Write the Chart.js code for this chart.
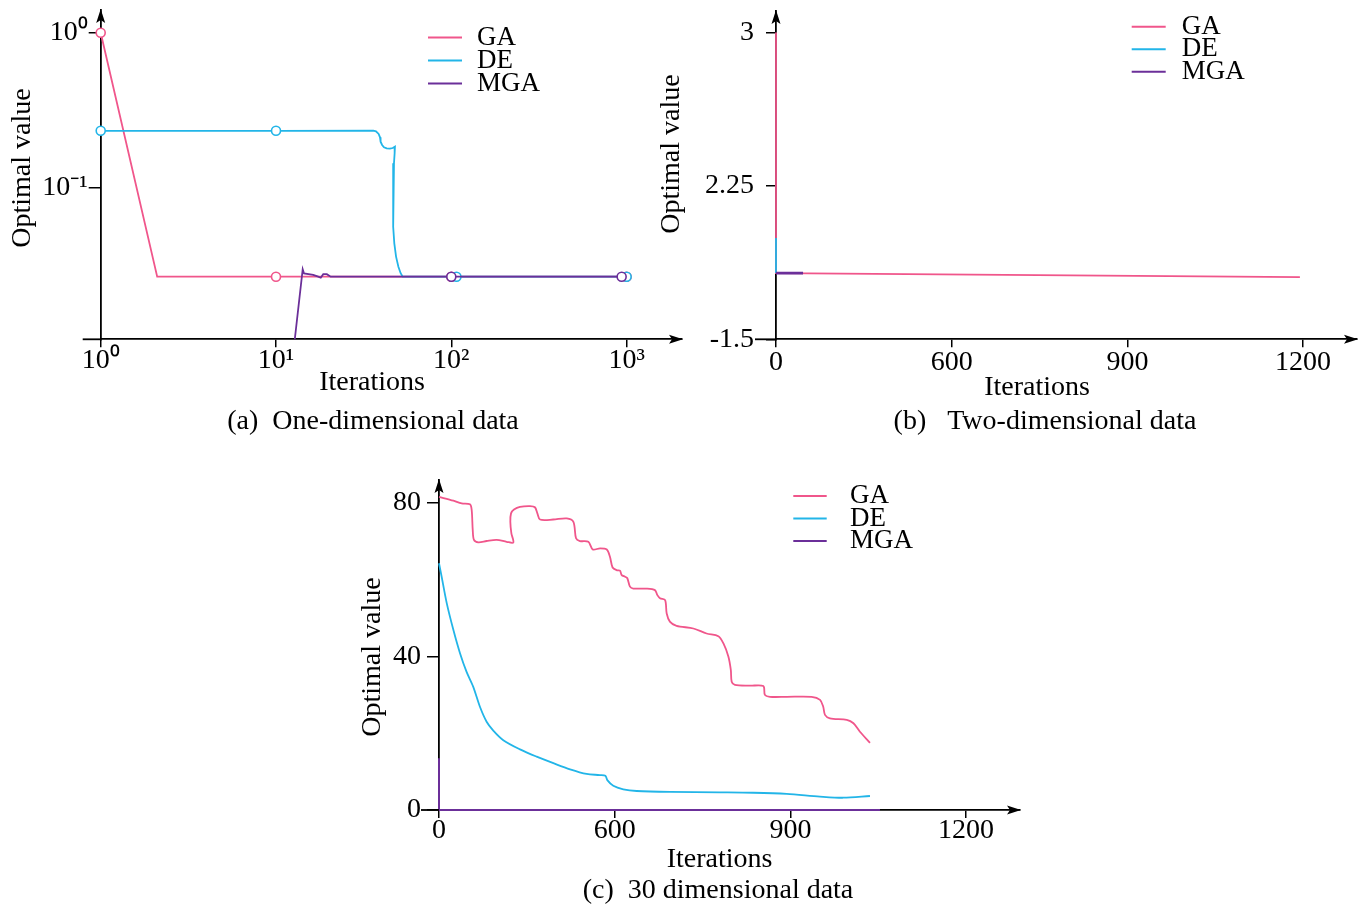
<!DOCTYPE html>
<html>
<head>
<meta charset="utf-8">
<title>Convergence curves of GA, DE and MGA</title>
<script src="https://cdn.jsdelivr.net/npm/chart.js@4.4.1/dist/chart.umd.min.js"></script>
<style>
  html, body { margin: 0; padding: 0; background: #fff; width: 1364px; height: 907px; overflow: hidden; position: relative; }
  canvas { position: absolute; }
</style>
</head>
<body>
<canvas id="panelA" width="746" height="450" style="left:0px;top:0px"></canvas>
<canvas id="panelB" width="810" height="450" style="left:640px;top:0px"></canvas>
<canvas id="panelC" width="836" height="450" style="left:300px;top:460px"></canvas>
<script>
const FONT = '"Liberation Serif", "Times New Roman", Times, serif';

const seriesNames = ['GA', 'DE', 'MGA'];
const seriesColors = ['#f0568b', '#22b5e8', '#6b2f99'];
const xTitleText = 'Iterations';
const yTitleText = 'Optimal value';

// (a) One-dimensional data: logarithmic iterations and optimal value
const oneDimXTicks = [1, 10, 100, 1000];
const oneDimXLabels = ['10⁰', '10¹', '10²', '10³'];
const oneDimYTicks = [0.1, 1];
const oneDimYLabels = ['10⁻¹', '10⁰'];

const oneDimGaIter   = [1, 2.1, 10, 100, 1000];
const oneDimGaValue  = [1, 0.0264, 0.0264, 0.0264, 0.0264];
const oneDimGaMarker = [4.5, 0, 4.5, 4.5, 4.5];

const oneDimDeIter = [1, 10, 35.9, 37.2, 38.5, 39.2, 39.5, 40.3, 41.3, 42.8, 44.7, 46.3, 47.7,
  47.5, 47.1, 46.7, 46.5, 46.5, 46.7, 47.3, 48.4, 49.9, 51.4, 52.8, 107, 1000];
const oneDimDeValue = [0.232, 0.232, 0.2323, 0.2301, 0.2213, 0.2105, 0.1972, 0.1878, 0.1815, 0.1787, 0.1778, 0.1795, 0.1832,
  0.1659, 0.1429, 0.1172, 0.0914, 0.0713, 0.0556, 0.0434, 0.0356, 0.0306, 0.0278, 0.0264, 0.0264, 0.0264];
const oneDimDeMarker = [4.5, 4.5, 0, 0, 0, 0, 0, 0, 0, 0, 0, 0, 0,
  0, 0, 0, 0, 0, 0, 0, 0, 0, 0, 0, 4.5, 4.5];

const oneDimMgaIter   = [12.8, 14.2, 14.45, 16.3, 17.4, 18.0, 18.6, 19.5, 20.5, 21.7, 100, 937];
const oneDimMgaValue  = [0.0104, 0.0295, 0.0277, 0.0271, 0.0264, 0.026, 0.0274, 0.0274, 0.0264, 0.0264, 0.0264, 0.0264];
const oneDimMgaMarker = [0, 0, 0, 0, 0, 0, 0, 0, 0, 0, 4.5, 4.5];

// (b) Two-dimensional data: both axes use evenly spaced tick steps,
// so positions below are given in tick steps (0, 1, 2, ...)
const twoDimXTicks = [0, 1, 2, 3];
const twoDimXLabels = ['0', '600', '900', '1200'];
const twoDimYTicks = [0, 1, 2];
const twoDimYLabels = ['-1.5', '2.25', '3'];

const twoDimGaStep  = [0, 0, 2.982];
const twoDimGaLevel = [2, 0.4315, 0.405];
const twoDimDeStep  = [0, 0];
const twoDimDeLevel = [0.66, 0.4315];
const twoDimMgaStep  = [0, 0.154];
const twoDimMgaLevel = [0.4315, 0.4315];

// (c) 30 dimensional data: iteration axis in tick steps, value axis linear
const thirtyDimXTicks = [0, 1, 2, 3];
const thirtyDimXLabels = ['0', '600', '900', '1200'];
const thirtyDimYTicks = [0, 40, 80];
const thirtyDimYLabels = ['0', '40', '80'];

const thirtyDimGaStep = [0, 0.082, 0.129, 0.176, 0.186, 0.192, 0.199, 0.224, 0.271, 0.328, 0.385, 0.423,
  0.412, 0.406, 0.410, 0.427, 0.461, 0.518, 0.546, 0.560, 0.575, 0.650, 0.727, 0.765, 0.780, 0.802, 0.850,
  0.875, 0.917, 0.955, 0.973, 0.988, 1.011, 1.030, 1.040, 1.059, 1.072, 1.087, 1.106, 1.182, 1.229, 1.243,
  1.258, 1.287, 1.296, 1.314, 1.352, 1.448, 1.523, 1.590, 1.619, 1.647, 1.661, 1.666, 1.684, 1.770, 1.846,
  1.855, 1.884, 1.979, 2.121, 2.169, 2.187, 2.197, 2.225, 2.321, 2.359, 2.396, 2.453];
const thirtyDimGaValue = [81.6, 80.6, 79.9, 79.65, 78.2, 73.0, 70.4, 69.75, 70.1, 70.4, 69.9, 69.7,
  72.1, 75.1, 77.3, 78.3, 79.0, 79.2, 78.9, 77.3, 75.7, 75.7, 76.0, 75.1, 70.8, 70.1, 69.9,
  67.9, 68.2, 67.9, 66.0, 63.2, 62.5, 62.4, 61.2, 60.8, 60.4, 58.2, 57.7, 57.7, 57.3, 56.0,
  55.2, 54.7, 51.2, 49.1, 48.0, 47.3, 46.0, 45.3, 43.4, 40.0, 36.5, 33.4, 32.6, 32.4, 32.3,
  30.0, 29.5, 29.5, 29.5, 28.7, 26.9, 24.8, 23.9, 23.5, 22.6, 20.4, 17.5];

const thirtyDimDeStep = [0, 0.015, 0.044, 0.082, 0.120, 0.157, 0.195, 0.233, 0.271, 0.309, 0.366, 0.461,
  0.556, 0.651, 0.746, 0.840, 0.916, 0.947, 0.958, 0.992, 1.049, 1.125, 1.315, 1.599, 1.789, 1.979, 2.168, 2.301, 2.453];
const thirtyDimDeValue = [64.3, 60.8, 53.9, 46.9, 40.8, 36.0, 32.1, 26.9, 23.0, 20.7, 18.2, 15.8,
  13.9, 12.2, 10.6, 9.4, 9.1, 8.9, 7.8, 6.3, 5.4, 4.95, 4.7, 4.6, 4.5, 4.2, 3.5, 3.2, 3.65];

const thirtyDimMgaStep  = [0, 0, 2.51];
const thirtyDimMgaValue = [13.5, 0, 0];

// ---------- helpers ----------
function series(idx, xs, ys, extra) {
  return Object.assign({
    label: seriesNames[idx],
    data: xs.map((x, i) => ({ x: x, y: ys[i] })),
    borderColor: seriesColors[idx],
    backgroundColor: '#fff',
    borderWidth: 1.8,
    pointRadius: 0,
    pointHoverRadius: 0,
    pointBorderColor: seriesColors[idx],
    pointBackgroundColor: '#fff',
    pointBorderWidth: 1.6,
    tension: 0,
    fill: false,
    clip: 6,
    order: 3 - idx
  }, extra || {});
}

function fixedTicks(values) {
  return function (scale) { scale.ticks = values.map(v => ({ value: v })); };
}

function noPadding(s) {
  s.paddingLeft = s.paddingRight = s.paddingTop = s.paddingBottom = 0;
}

function axis(pos, type, min, max, values, labels, size, tickLen, pad) {
  return {
    type: type, position: pos, min: min, max: max, bounds: 'data',
    afterBuildTicks: fixedTicks(values),
    afterFit: function (s) {
      if (pos === 'left') s.width = size; else s.height = size;
      noPadding(s);
    },
    grid: { display: true, drawOnChartArea: false, drawTicks: true, tickLength: tickLen, color: '#000', lineWidth: 1.5 },
    border: { display: true, color: '#000', width: 1.8 },
    ticks: {
      autoSkip: false, maxRotation: 0, minRotation: 0, padding: pad, color: '#000',
      font: { family: FONT, size: 28, lineHeight: 1.2 },
      callback: function (v) { return labels[values.indexOf(v)]; }
    }
  };
}

// blank margin on the right of the plot, so the caption stays centred on the panel
function rightMargin(width) {
  return {
    type: 'linear', position: 'right', min: 0, max: 1,
    afterFit: function (s) { s.width = width; noPadding(s); },
    grid: { display: false }, border: { display: false }, ticks: { display: false }
  };
}

// axis arrows, the short lead of the iteration axis, axis titles and the inline key
const framePlugin = {
  id: 'frame',
  afterDraw(chart, args, o) {
    const ctx = chart.ctx, a = chart.chartArea;
    ctx.save();
    ctx.strokeStyle = '#000';
    ctx.fillStyle = '#000';
    ctx.lineWidth = 1.8;
    ctx.beginPath();
    ctx.moveTo(a.left - o.xLead, a.bottom);
    ctx.lineTo(a.left, a.bottom);
    ctx.stroke();

    ctx.beginPath();
    ctx.moveTo(a.right + 1, a.bottom);
    ctx.lineTo(a.right - 13, a.bottom - 4.5);
    ctx.lineTo(a.right - 10, a.bottom);
    ctx.lineTo(a.right - 13, a.bottom + 4.5);
    ctx.closePath();
    ctx.fill();

    ctx.beginPath();
    ctx.moveTo(a.left, a.top - 1);
    ctx.lineTo(a.left - 4.5, a.top + 13);
    ctx.lineTo(a.left, a.top + 10);
    ctx.lineTo(a.left + 4.5, a.top + 13);
    ctx.closePath();
    ctx.fill();

    ctx.font = '28px ' + FONT;
    ctx.textAlign = 'center';
    ctx.textBaseline = 'middle';
    ctx.fillText(xTitleText, o.xTitle[0], o.xTitle[1]);
    ctx.save();
    ctx.translate(o.yTitle[0], o.yTitle[1]);
    ctx.rotate(-Math.PI / 2);
    ctx.fillText(yTitleText, 0, 0);
    ctx.restore();

    const k = o.key;
    ctx.font = '27px ' + FONT;
    ctx.textAlign = 'left';
    seriesNames.forEach((name, i) => {
      const y = k.y + i * k.dy;
      ctx.strokeStyle = seriesColors[i];
      ctx.lineWidth = 2;
      ctx.beginPath();
      ctx.moveTo(k.x, y);
      ctx.lineTo(k.x + k.len, y);
      ctx.stroke();
      ctx.fillStyle = '#000';
      ctx.fillText(name, k.textX, y);
    });
    ctx.restore();
  }
};

function panel(id, datasets, scales, caption, layoutPad, frame) {
  return new Chart(document.getElementById(id), {
    type: 'line',
    data: { datasets: datasets },
    options: {
      responsive: false,
      maintainAspectRatio: false,
      devicePixelRatio: 1,
      animation: false,
      events: [],
      layout: { padding: layoutPad },
      scales: scales,
      plugins: {
        legend: { display: false },
        tooltip: { enabled: false },
        title: {
          display: true, position: 'bottom', text: caption, color: '#000', padding: 0,
          font: { family: FONT, size: 28, weight: 'normal', lineHeight: 1.2 }
        },
        frame: frame
      }
    },
    plugins: [framePlugin]
  });
}

// (a)
panel('panelA', [
    series(0, oneDimGaIter, oneDimGaValue, { pointRadius: oneDimGaMarker }),
    series(1, oneDimDeIter, oneDimDeValue, { pointRadius: oneDimDeMarker }),
    series(2, oneDimMgaIter, oneDimMgaValue, { pointRadius: oneDimMgaMarker })
  ], {
    x: axis('bottom', 'logarithmic', 1, 2070, oneDimXTicks, oneDimXLabels, 65.9, 8, -3),
    y: axis('left', 'logarithmic', 0.01039, 1.402, oneDimYTicks, oneDimYLabels, 100.7, 12, 1),
    margin: rightMargin(64)
  },
  '(a)  One-dimensional data',
  { left: 0, top: 10, right: 0, bottom: 11.2 },
  { xLead: 18, xTitle: [372, 383], yTitle: [23, 168], key: { x: 428, len: 34, textX: 477, y: 37.5, dy: 23 } }
);

// (b)
panel('panelB', [
    series(0, twoDimGaStep, twoDimGaLevel),
    series(1, twoDimDeStep, twoDimDeLevel),
    series(2, twoDimMgaStep, twoDimMgaLevel, { borderWidth: 2.6 })
  ], {
    x: axis('bottom', 'linear', 0, 3.307, twoDimXTicks, twoDimXLabels, 65.9, 8, -1.5),
    y: axis('left', 'linear', 0, 2.14, twoDimYTicks, twoDimYLabels, 136, 10, 12),
    margin: rightMargin(93)
  },
  '(b)   Two-dimensional data',
  { left: 0, top: 11, right: 0, bottom: 11.2 },
  { xLead: 21, xTitle: [397, 388], yTitle: [31.5, 154], key: { x: 491.7, len: 34, textX: 541.7, y: 26.7, dy: 22.5 } }
);

// (c)
panel('panelC', [
    series(0, thirtyDimGaStep, thirtyDimGaValue, { tension: 0.3 }),
    series(1, thirtyDimDeStep, thirtyDimDeValue, { tension: 0.3 }),
    series(2, thirtyDimMgaStep, thirtyDimMgaValue, { borderWidth: 2 })
  ], {
    x: axis('bottom', 'linear', 0, 3.307, thirtyDimXTicks, thirtyDimXLabels, 64.2, 8, -4.2),
    y: axis('left', 'linear', 0, 86.0, thirtyDimYTicks, thirtyDimYLabels, 139, 12, 6),
    margin: rightMargin(116)
  },
  '(c)  30 dimensional data',
  { left: 0, top: 20, right: 0, bottom: 2.2 },
  { xLead: 18, xTitle: [419.6, 400], yTitle: [73, 197], key: { x: 493.3, len: 33.4, textX: 550, y: 36, dy: 22.5 } }
);
</script>
</body>
</html>
